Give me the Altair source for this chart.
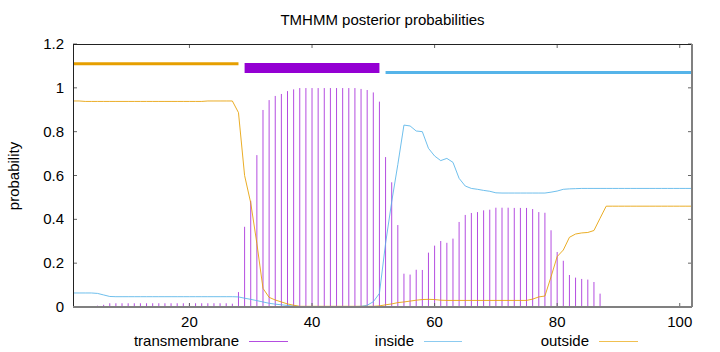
import altair as alt
import pandas as pd

# ---------------- data ----------------
positions = list(range(1, 103))

tm = [0, 0, 0, 0, 0.006, 0.010,
      0.017, 0.017, 0.017, 0.017, 0.017, 0.017, 0.017, 0.017, 0.017, 0.017,
      0.017, 0.017, 0.017, 0.017, 0.017, 0.017, 0.017, 0.017, 0.017, 0.017,
      0.015, 0.068,
      0.366, 0.485, 0.693, 0.899, 0.944, 0.963, 0.972, 0.985, 0.993,
      0.999, 0.999, 0.999, 0.999, 0.999, 0.999, 0.999, 0.999, 0.999, 0.999,
      0.995, 0.990, 0.979, 0.937, 0.684, 0.569, 0.374, 0.152, 0.148, 0.170,
      0.169, 0.248, 0.280, 0.301, 0.293, 0.312, 0.388, 0.420, 0.429, 0.433,
      0.441, 0.444, 0.453, 0.453, 0.453, 0.452, 0.452, 0.452, 0.447, 0.433,
      0.430, 0.350, 0.251, 0.211, 0.146, 0.134, 0.128, 0.125, 0.114, 0.061,
      0, 0, 0, 0, 0, 0, 0, 0, 0, 0, 0, 0, 0, 0, 0]

inside = [0.064, 0.064, 0.064, 0.064, 0.062, 0.055, 0.048,
          0.047, 0.047, 0.047, 0.047, 0.047, 0.047, 0.047, 0.047, 0.047, 0.047,
          0.047, 0.047, 0.047, 0.047, 0.047, 0.047, 0.047, 0.047, 0.047, 0.047,
          0.046, 0.040, 0.035, 0.029, 0.023, 0.017, 0.013, 0.010, 0.007, 0.004,
          0.002, 0.002, 0.002, 0.002, 0.002, 0.002, 0.002, 0.002, 0.002, 0.002,
          0.003, 0.008, 0.024, 0.062, 0.290, 0.480, 0.650, 0.830, 0.826, 0.803,
          0.800, 0.724, 0.689, 0.668, 0.678, 0.660, 0.587, 0.552, 0.541, 0.537,
          0.532, 0.528, 0.521,
          0.520, 0.520, 0.520, 0.520, 0.520, 0.520, 0.520, 0.520,
          0.524, 0.529, 0.537, 0.539, 0.540,
          0.541, 0.541, 0.541, 0.541, 0.541, 0.541, 0.541, 0.541, 0.541, 0.541,
          0.541, 0.541, 0.541, 0.541, 0.541, 0.541, 0.541, 0.541, 0.541]

outside = [0.940, 0.940, 0.938, 0.938, 0.938, 0.938, 0.938, 0.938, 0.938, 0.938,
           0.938, 0.938, 0.938, 0.938, 0.938, 0.938, 0.938, 0.938, 0.938, 0.938,
           0.938, 0.938, 0.940, 0.940, 0.940, 0.940, 0.940,
           0.887, 0.600, 0.475, 0.290, 0.085, 0.044, 0.032, 0.023, 0.014, 0.008,
           0.003, 0.003, 0.003, 0.003, 0.003, 0.003, 0.003, 0.003, 0.003, 0.003,
           0.003, 0.003, 0.003,
           0.005, 0.010, 0.014, 0.020, 0.023, 0.027, 0.031, 0.034, 0.035, 0.034,
           0.031,
           0.030, 0.030, 0.030, 0.030, 0.030, 0.030, 0.030, 0.030, 0.030, 0.030,
           0.030, 0.030, 0.030, 0.030,
           0.036, 0.046, 0.050, 0.138, 0.230, 0.260, 0.318, 0.333, 0.338, 0.340,
           0.349, 0.405,
           0.460, 0.460, 0.460, 0.460, 0.460, 0.460, 0.460, 0.460, 0.460, 0.460,
           0.460, 0.460, 0.460, 0.460, 0.460]

assert len(tm) == len(inside) == len(outside) == len(positions)

# predicted topology bars at the top
seg_names = ["outside", "TMhelix", "inside"]
seg_start = [1, 29, 52]
seg_end = [28, 51, 102]
seg_level = [1.11, 1.09, 1.07]

xtick_values = [20, 40, 60, 80, 100]
ytick_values = [0, 0.2, 0.4, 0.6, 0.8, 1.0, 1.2]

legend_labels = ["transmembrane", "inside", "outside"]

# ---------------- style ----------------
PURPLE = "#9400d3"
BLUE = "#56b4e9"
ORANGE = "#e69f00"
FONT = "Liberation Sans"
FS = 15
W, H = 619, 263

seg_colors = {"outside": ORANGE, "TMhelix": PURPLE, "inside": BLUE}
seg_widths = {"outside": 3, "TMhelix": 10, "inside": 3}

xscale = alt.Scale(domain=[1, 102], nice=False, zero=False)
yscale = alt.Scale(domain=[0, 1.2], nice=False, zero=False)

df = pd.DataFrame({"pos": positions, "tm": tm, "inside": inside, "outside": outside})
seg_df = pd.DataFrame({
    "name": seg_names, "start": seg_start, "end": seg_end, "level": seg_level,
    "color": [seg_colors[n] for n in seg_names],
    "w": [seg_widths[n] for n in seg_names],
})
xt_df = pd.DataFrame({"v": xtick_values})
yt_df = pd.DataFrame({"v": ytick_values})
one = pd.DataFrame({"k": [0]})

impulses = alt.Chart(df).mark_rule(color=PURPLE, strokeWidth=1, opacity=0.7).encode(
    x=alt.X("pos:Q", scale=xscale, axis=None),
    y=alt.Y("tm:Q", scale=yscale, axis=None),
    y2=alt.datum(0),
)

inside_line = alt.Chart(df).mark_line(color=BLUE, strokeWidth=1, opacity=0.85).encode(
    x=alt.X("pos:Q", scale=xscale, axis=None),
    y=alt.Y("inside:Q", scale=yscale, axis=None),
)
outside_line = alt.Chart(df).mark_line(color=ORANGE, strokeWidth=1, opacity=0.85).encode(
    x=alt.X("pos:Q", scale=xscale, axis=None),
    y=alt.Y("outside:Q", scale=yscale, axis=None),
)

segments = alt.Chart(seg_df).mark_rule().encode(
    x=alt.X("start:Q", scale=xscale, axis=None),
    x2="end:Q",
    y=alt.Y("level:Q", scale=yscale, axis=None),
    color=alt.Color("color:N", scale=None),
    strokeWidth=alt.StrokeWidth("w:Q", scale=None),
)

# inward ticks (gnuplot style, mirrored)
TL = 4
TICKC = "#666"
ytick_l = alt.Chart(yt_df).mark_rule(color=TICKC).encode(
    y=alt.Y("v:Q", scale=yscale, axis=None), x=alt.value(0), x2=alt.value(TL))
ytick_r = alt.Chart(yt_df).mark_rule(color=TICKC).encode(
    y=alt.Y("v:Q", scale=yscale, axis=None), x=alt.value(W - TL), x2=alt.value(W))
xtick_b = alt.Chart(xt_df).mark_rule(color=TICKC).encode(
    x=alt.X("v:Q", scale=xscale, axis=None), y=alt.value(H - TL), y2=alt.value(H))
xtick_t = alt.Chart(xt_df).mark_rule(color=TICKC).encode(
    x=alt.X("v:Q", scale=xscale, axis=None), y=alt.value(0), y2=alt.value(TL))

# tick labels, placed with the shared scales
ylabels = alt.Chart(yt_df).mark_text(
    font=FONT, fontSize=FS, color="#000", align="right", baseline="middle").encode(
    y=alt.Y("v:Q", scale=yscale, axis=None), x=alt.value(-9),
    text=alt.Text("v:Q", format="~g"))
xlabels = alt.Chart(xt_df).mark_text(
    font=FONT, fontSize=FS, color="#000", align="center", baseline="middle").encode(
    x=alt.X("v:Q", scale=xscale, axis=None), y=alt.value(H + 15),
    text=alt.Text("v:Q", format="d"))

# frame
frame_top = alt.Chart(one).mark_rule(color="#222", strokeWidth=1).encode(
    x=alt.value(0), x2=alt.value(W), y=alt.value(0.5))
frame_left = alt.Chart(one).mark_rule(color="#222", strokeWidth=1).encode(
    y=alt.value(0), y2=alt.value(H), x=alt.value(0.5))
frame_bottom = alt.Chart(one).mark_rule(color="#808080", strokeWidth=2).encode(
    x=alt.value(0), x2=alt.value(W), y=alt.value(H))
frame_right = alt.Chart(one).mark_rule(color="#808080", strokeWidth=2).encode(
    y=alt.value(0), y2=alt.value(H), x=alt.value(W))

title = alt.Chart(one).mark_text(
    text="TMHMM posterior probabilities", font=FONT, fontSize=FS, color="#000",
    align="center", baseline="middle").encode(x=alt.value(W / 2), y=alt.value(-24))

ylabel = alt.Chart(one).mark_text(
    text="probability", font=FONT, fontSize=FS, color="#000", angle=270,
    align="center", baseline="middle").encode(x=alt.value(-59), y=alt.value(132))

# legend (gnuplot-like key below the plot)
LEG_Y = 297
legend_layers = []
legend_layout = [(166, 176, 215, "#b44de0"), (341, 351, 389, "#8ccbf0"), (516, 526, 565, "#f0c050")]
for label, (tx, lx1, lx2, col) in zip(legend_labels, legend_layout):
    legend_layers.append(alt.Chart(one).mark_text(
        text=label, font=FONT, fontSize=FS, color="#000", align="right",
        baseline="middle").encode(x=alt.value(tx), y=alt.value(LEG_Y)))
    legend_layers.append(alt.Chart(one).mark_rule(color=col, strokeWidth=1).encode(
        x=alt.value(lx1), x2=alt.value(lx2), y=alt.value(LEG_Y + 0.5)))

chart = alt.layer(
    impulses, inside_line, outside_line, segments,
    ytick_l, ytick_r, xtick_b, xtick_t,
    frame_top, frame_left, frame_bottom, frame_right,
    ylabels, xlabels,
    title, ylabel, *legend_layers,
).properties(
    width=W, height=H,
    padding={"left": 73, "top": 44, "right": 28, "bottom": 45},
    autosize=alt.AutoSizeParams(type="none"),
    background="white",
).configure_view(stroke=None)

chart.save("out.html", embed_options={"renderer": "svg", "actions": False})
